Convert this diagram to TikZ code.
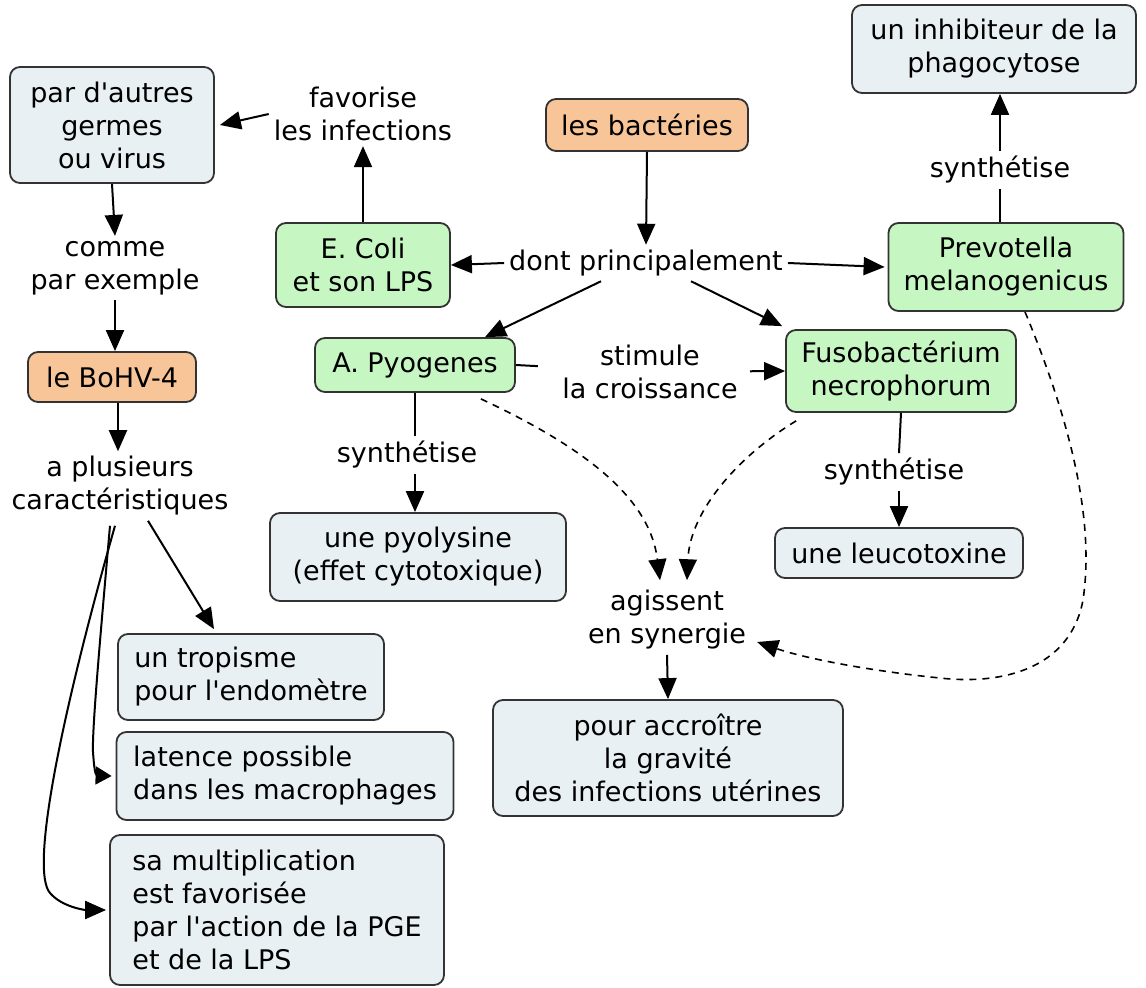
\documentclass[tikz,border=0pt]{standalone}
\usepackage{fontspec}
\setmainfont{DejaVu Sans}
\usetikzlibrary{arrows.meta,calc}
\definecolor{boxblue}{HTML}{E8F0F3}
\definecolor{boxgreen}{HTML}{C6F6C2}
\definecolor{boxorange}{HTML}{F8C598}
\definecolor{edge}{HTML}{333333}
\newcommand{\ap}{\textquotesingle}
\begin{document}
\begin{tikzpicture}[x=1pt,y=-1pt,
  font=\fontsize{27}{33}\selectfont,
  box/.style={draw=edge,line width=1.8pt,rounded corners=10pt,align=center,inner sep=0pt},
  bluebox/.style={box,fill=boxblue},
  greenbox/.style={box,fill=boxgreen},
  orangebox/.style={box,fill=boxorange},
  lbl/.style={align=center,inner sep=5pt},
  link/.style={line width=2pt,draw=black},
  arr/.style={link,-{Triangle[length=21pt,width=18pt]}},
  shortarr/.style={link,-{Triangle[length=16pt,width=18pt]}},
  dashlink/.style={arr,line width=1.6pt,dash pattern=on 7pt off 6pt}]
\useasboundingbox (0,0) rectangle (1146,988);

% concept boxes
\node[bluebox,minimum width=204pt,minimum height=116pt] (autres) at (112,125) {par d\ap autres\\germes\\ou virus};
\node[orangebox,minimum width=202pt,minimum height=52pt] (bact) at (647,125) {les bactéries};
\node[bluebox,minimum width=284pt,minimum height=88pt] (inhib) at (994,49) {un inhibiteur de la\\phagocytose};
\node[greenbox,minimum width=174pt,minimum height=84pt] (ecoli) at (363,265) {E. Coli\\et son LPS};
\node[greenbox,minimum width=235pt,minimum height=88pt] (prev) at (1006,267) {Prevotella\\melanogenicus};
\node[orangebox,minimum width=168pt,minimum height=50pt] (bohv) at (112,377) {le BoHV-4};
\node[greenbox,minimum width=200pt,minimum height=54pt] (apyo) at (415,365) {A. Pyogenes};
\node[greenbox,minimum width=230pt,minimum height=82pt] (fuso) at (901,371) {Fusobactérium\\necrophorum};
\node[bluebox,minimum width=296pt,minimum height=88pt] (pyol) at (418,557) {une pyolysine\\(effet cytotoxique)};
\node[bluebox,minimum width=248pt,minimum height=50pt] (leuco) at (899,553) {une leucotoxine};
\node[bluebox,minimum width=266pt,minimum height=86pt,align=left] (trop) at (251,677) {un tropisme\\pour l\ap endomètre};
\node[bluebox,minimum width=337pt,minimum height=88pt,align=left] (lat) at (285,776) {latence possible\\dans les macrophages};
\node[bluebox,minimum width=350pt,minimum height=116pt] (pour) at (668,758) {pour accroître\\la gravité\\des infections utérines};
\node[bluebox,minimum width=334pt,minimum height=150pt,align=left] (sam) at (277,910) {sa multiplication\\est favorisée\\par l\ap action de la PGE\\et de la LPS};

% linking phrases
\node[lbl] (fav) at (363,114) {favorise\\les infections};
\node[lbl] (syntop) at (1000,170) {synthétise};
\node[lbl] (comme) at (115,268) {comme\\par exemple};
\node[lbl] (dont) at (646,263) {dont principalement};
\node[lbl] (stim) at (650,372) {stimule\\la croissance};
\node[lbl] (plus) at (120,486) {a plusieurs\\caractéristiques};
\node[lbl] (synm) at (407,455) {synthétise};
\node[lbl] (synr) at (894,472) {synthétise};
\node[lbl] (agis) at (667,620) {agissent\\en synergie};

% solid connectors
\draw[arr] (ecoli.north) -- (ecoli.north |- fav.south);
\draw[arr] (fav.west) -- ([xshift=5pt]autres.east);
\draw[arr] (bact.south) -- (dont.north);
\draw[arr] (dont.west) -- (ecoli.east);
\draw[arr] (dont.east) -- ([xshift=-3pt]prev.west);
\draw[arr] ([xshift=-45pt]dont.south) -- ([xshift=70pt]apyo.north);
\draw[arr] ([xshift=45pt]dont.south) -- ([shift={(-3pt,3pt)}]fuso.north west);
\draw[link] (apyo.east) -- ($(apyo.east)!22pt!(stim.center)$);
\draw[arr] ($(stim.center)!100pt!(fuso.west)$) -- (fuso.west);
\draw[link] (apyo.south) -- (apyo.south |- synm.north);
\draw[arr] (apyo.south |- synm.south) -- (apyo.south |- pyol.north);
\draw[link] (fuso.south) -- (synr.north -| leuco.north);
\draw[arr] (synr.south -| leuco.north) -- (leuco.north);
\draw[link] (prev.north -| syntop) -- (syntop.south);
\draw[arr] (syntop.north) -- (syntop.north |- inhib.south);
\draw[arr] (autres.south) -- (comme.north);
\draw[arr] (comme.south) -- (bohv.north -| comme.south);
\draw[arr] ([xshift=6pt]bohv.south) -- ([xshift=-2pt]plus.north);
\draw[arr] ([xshift=28pt]plus.south) -- ([xshift=-37pt,yshift=4pt]trop.north);
\draw[shortarr] ([shift={(-10pt,-5pt)}]plus.south) .. controls (100,640) and (92,730) .. (93,752)
  .. controls (94,766) and (95,775) .. (97,775.5) -- ([xshift=-4pt]lat.west);
\draw[arr] ([shift={(-5pt,-5pt)}]plus.south) .. controls (60,720) and (30,870) .. (50,893)
  .. controls (62,907) and (85,910) .. ([xshift=-3pt]sam.west);
\draw[arr] (agis.south) -- (pour.north);

% dashed connectors
\draw[dashlink] ([shift={(-35pt,-6pt)}]apyo.south east) .. controls (590,450) and (650,500) .. ([xshift=-7pt,yshift=5pt]agis.north);
\draw[dashlink] ([shift={(11pt,-8pt)}]fuso.south west) .. controls (740,455) and (690,510) .. ([xshift=20pt,yshift=5pt]agis.north);
\draw[dashlink] ([xshift=19pt]prev.south) .. controls (1070,420) and (1095,520) .. (1083,600)
  .. controls (1070,670) and (1000,685) .. (940,678)
  .. controls (880,672) and (810,660) .. ([shift={(6pt,-22pt)}]agis.east);
\end{tikzpicture}
\end{document}
